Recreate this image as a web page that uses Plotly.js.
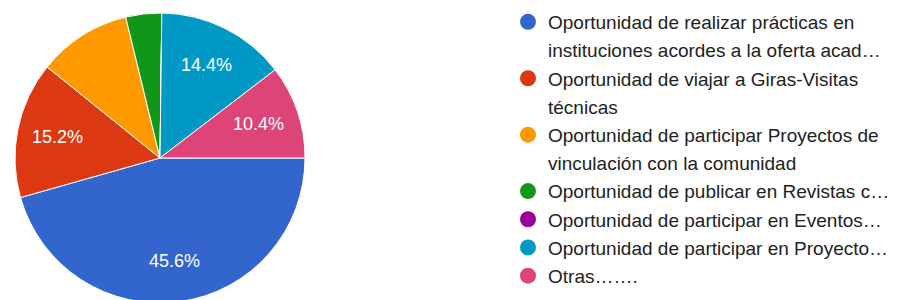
<!DOCTYPE html>
<html>
<head>
<meta charset="utf-8">
<script src="https://cdn.plot.ly/plotly-3.0.1.min.js"></script>
<style>
html,body{margin:0;padding:0;overflow:hidden;background:#fff;}
#chart{width:900px;height:303px;}
</style>
</head>
<body>
<div id="chart"></div>
<script>
const categories = [
  "Oportunidad de realizar prácticas en<br>instituciones acordes a la oferta acad…",
  "Oportunidad de viajar a Giras-Visitas<br>técnicas",
  "Oportunidad de participar Proyectos de<br>vinculación con la comunidad",
  "Oportunidad de publicar en Revistas c…",
  "Oportunidad de participar en Eventos…",
  "Oportunidad de participar en Proyecto…",
  "Otras……."
];
const percentages = [45.6, 15.2, 10.4, 4.0, 0, 14.4, 10.4];
const showLabel = [true, true, false, false, false, true, true];
const colors = ["#3366cc", "#dc3912", "#ff9900", "#109618", "#990099", "#0099c6", "#dd4477"];

const W = 900, H = 303;
const cx = 160, cy = 158, R = 145;
const startDeg = 90;        // first slice starts at 3 o'clock, clockwise
const labelFrac = 0.72;     // slice labels sit at this fraction of the radius
const FONT = "Liberation Sans, Arial, sans-serif";

const pie = {
  type: "pie",
  labels: categories,
  values: percentages,
  sort: false,
  direction: "clockwise",
  rotation: startDeg,
  marker: {colors: colors, line: {color: "#ffffff", width: 1}},
  textinfo: "none",
  hoverinfo: "none",
  showlegend: false,
  domain: {x: [(cx - R) / W, (cx + R) / W], y: [1 - (cy + R) / H, 1 - (cy - R) / H]}
};

// slice percentage labels, placed along each slice's mid-angle
const total = percentages.reduce((a, b) => a + b, 0);
const annotations = [];
let acc = 0;
percentages.forEach((v, i) => {
  const mid = startDeg + (acc + v / 2) / total * 360; // degrees clockwise from 12 o'clock
  acc += v;
  if (!showLabel[i]) return;
  const a = mid * Math.PI / 180;
  const px = cx + labelFrac * R * Math.sin(a);
  const py = cy - labelFrac * R * Math.cos(a);
  annotations.push({
    xref: "paper", yref: "paper",
    x: px / W, y: 1 - py / H,
    xanchor: "center", yanchor: "middle",
    text: (v / total * 100).toFixed(1) + "%",
    showarrow: false,
    font: {family: FONT, size: 18, color: "#ffffff"}
  });
});

// legend: one entry per line so that every line is evenly spaced
const legendTraces = [];
categories.forEach((c, i) => {
  c.split("<br>").forEach((line, j) => {
    legendTraces.push({
      type: "scatter",
      mode: "markers",
      x: [null], y: [null],
      name: line,
      legendgroup: "g" + i + "_" + j,
      marker: {color: j === 0 ? colors[i] : "rgba(0,0,0,0)", size: 16, symbol: "circle"},
      hoverinfo: "none"
    });
  });
});

const layout = {
  width: W, height: H,
  margin: {l: 0, r: 0, t: 0, b: 0},
  paper_bgcolor: "#ffffff",
  plot_bgcolor: "#ffffff",
  xaxis: {visible: false},
  yaxis: {visible: false},
  showlegend: true,
  annotations: annotations,
  legend: {
    x: 508 / W, xanchor: "left",
    y: 1 - 3 / H, yanchor: "top",
    traceorder: "grouped",
    tracegroupgap: 0.5,
    itemsizing: "trace",
    font: {family: FONT, size: 19, color: "#222222"},
    bgcolor: "rgba(0,0,0,0)"
  }
};

Plotly.newPlot("chart", [pie].concat(legendTraces), layout, {staticPlot: true, displayModeBar: false});
</script>
</body>
</html>
